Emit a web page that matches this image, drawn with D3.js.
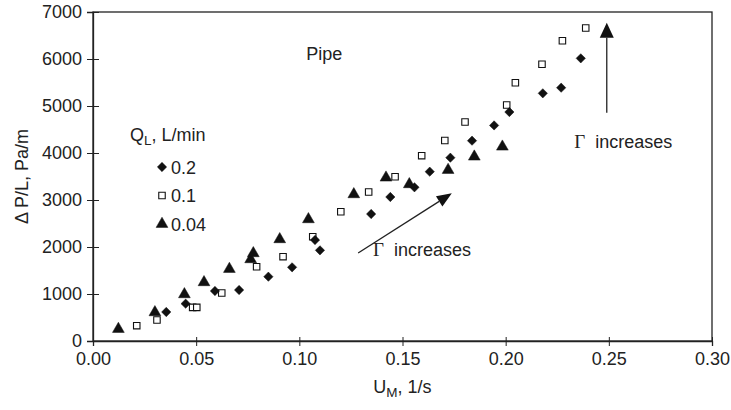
<!DOCTYPE html>
<html><head><meta charset="utf-8">
<script src="https://cdn.jsdelivr.net/npm/d3@7"></script>
<style>
html,body{margin:0;padding:0;background:#fff;}
svg text{font-family:"Liberation Sans",Arial,Helvetica,sans-serif;fill:#222;}
</style></head>
<body><svg id="chart" width="731" height="410"></svg>
<script>
// ---- data ----
const xTicks = [0,0.05,0.10,0.15,0.20,0.25,0.30];
const yTicks = [0,1000,2000,3000,4000,5000,6000,7000];
const seriesNames = ["0.2","0.1","0.04"];
const s02 = [[0.0355,617],[0.0449,794],[0.0591,1064],[0.0708,1085],[0.0850,1368],[0.0965,1568],[0.1076,2149],[0.1100,1929],[0.1348,2702],[0.1441,3064],[0.1558,3270],[0.1632,3603],[0.1732,3900],[0.1837,4262],[0.1944,4587],[0.2018,4872],[0.2180,5270],[0.2269,5389],[0.2364,6014]];
const s01 = [[0.0212,326],[0.031,447],[0.0483,716],[0.0503,716],[0.0624,1021],[0.0793,1581],[0.0921,1794],[0.1065,2219],[0.1201,2751],[0.1336,3170],[0.1464,3496],[0.1593,3943],[0.1705,4267],[0.1803,4660],[0.2005,5021],[0.2047,5496],[0.2176,5887],[0.2275,6389],[0.2388,6660]];
const s004 = [[0.0123,255],[0.030,610],[0.0443,993],[0.0538,1249],[0.0661,1532],[0.0764,1738],[0.0777,1866],[0.0905,2164],[0.1044,2589],[0.1264,3121],[0.1420,3475],[0.1533,3334],[0.1721,3638],[0.1848,3922],[0.1984,4134]];
// annotations (data space)
const arrow1 = [[0.1285,1872],[0.1739,3143]];
const arrow2 = [[0.2490,4857],[0.2490,6772]];
const label1 = [0.1357,1810];
const label2 = [0.2332,4106];

// ---- layout ----
const L=93,R=712,T=12,B=341;
const svg=d3.select("#chart");
const x=d3.scaleLinear().domain([0,0.30]).range([L,R]);
const y=d3.scaleLinear().domain([0,7000]).range([B,T]);
const FS=18;

// frame
svg.append("rect").attr("x",L).attr("y",T).attr("width",R-L).attr("height",B-T)
  .attr("fill","none").attr("stroke","#222").attr("stroke-width",1.3);

// x axis
const xa=svg.append("g").attr("transform",`translate(0,${B})`)
  .call(d3.axisBottom(x).tickValues(xTicks).tickFormat(d3.format(".2f")).tickSize(5).tickPadding(6));
xa.select(".domain").attr("stroke","#222").attr("stroke-width",1.3);
xa.selectAll(".tick line").attr("stroke","#222").attr("y1",-4);
xa.selectAll("text").attr("font-size",FS).attr("fill","#222");

const ya=svg.append("g").attr("transform",`translate(${L},0)`)
  .call(d3.axisLeft(y).tickValues(yTicks).tickFormat(d3.format("d")).tickSize(6).tickPadding(5));
ya.select(".domain").attr("stroke","#222").attr("stroke-width",1.3);
ya.selectAll(".tick line").attr("stroke","#222").attr("x1",6);
ya.selectAll("text").attr("font-size",FS).attr("fill","#222");

// axis titles
const xt=svg.append("text").attr("x",(L+R)/2).attr("y",393).attr("text-anchor","middle").attr("font-size",FS);
xt.append("tspan").text("U");
xt.append("tspan").attr("font-size",FS*0.75).attr("dy",4).text("M");
xt.append("tspan").attr("dy",-4).text(", 1/s");

svg.append("text").attr("transform",`translate(28,${(T+B)/2}) rotate(-90)`)
  .attr("text-anchor","middle").attr("font-size",FS).text("\u0394 P/L, Pa/m");

// Pipe
svg.append("text").attr("x",x(0.1034)).attr("y",y(5980)).attr("font-size",FS).text("Pipe");

// markers
const diamond=d3.symbol().type(d3.symbolDiamond2).size(55);
const square=d3.symbol().type(d3.symbolSquare).size(42);
const tri=d3.symbol().type(d3.symbolTriangle).size(60);
function drawSeries(data,sym,filled){
  svg.append("g").selectAll("path").data(data).join("path")
    .attr("d",sym).attr("transform",d=>`translate(${x(d[0])},${y(d[1])})`)
    .attr("fill",filled?"#111":"#fff").attr("stroke","#111").attr("stroke-width",filled?0.5:1.1);
}
drawSeries(s01,square,false);
drawSeries(s02,diamond,true);
drawSeries(s004,tri,true);

// legend
const ly=141;
const lt=svg.append("text").attr("x",130).attr("y",ly).attr("font-size",FS);
lt.append("tspan").text("Q");
lt.append("tspan").attr("font-size",FS*0.75).attr("dy",4).text("L");
lt.append("tspan").attr("dy",-4).text(", L/min");
const legSyms=[diamond,square,tri];
seriesNames.forEach((n,i)=>{
  const cy=167+i*28.5;
  svg.append("path").attr("d",legSyms[i]).attr("transform",`translate(162,${cy})`)
    .attr("fill",i==1?"#fff":"#111").attr("stroke","#111").attr("stroke-width",i==1?1.1:0.5);
  svg.append("text").attr("x",171).attr("y",cy+6.5).attr("font-size",FS).text(n);
});

// arrows
function arrow(a,hl,hw){
  const x1=x(a[0][0]),y1=y(a[0][1]),x2=x(a[1][0]),y2=y(a[1][1]);
  const ang=Math.atan2(y2-y1,x2-x1);
  const bx=x2-hl*Math.cos(ang), by=y2-hl*Math.sin(ang);
  svg.append("line").attr("x1",x1).attr("y1",y1).attr("x2",bx).attr("y2",by)
    .attr("stroke","#222").attr("stroke-width",1.3);
  const px=-Math.sin(ang)*hw/2, py=Math.cos(ang)*hw/2;
  svg.append("path").attr("d",`M${x2},${y2}L${bx+px},${by+py}L${bx-px},${by-py}Z`).attr("fill","#111");
}
arrow(arrow1,15,12);
arrow(arrow2,15,14);

function gammaLabel(p){
  const t=svg.append("text").attr("x",x(p[0])).attr("y",y(p[1])).attr("font-size",FS);
  t.append("tspan").attr("font-family","'Liberation Serif','Times New Roman',serif").attr("font-size",FS+1).text("\u0393");
  t.append("tspan").text("\u00a0 increases");
}
gammaLabel(label1);
gammaLabel(label2);
</script></body></html>
